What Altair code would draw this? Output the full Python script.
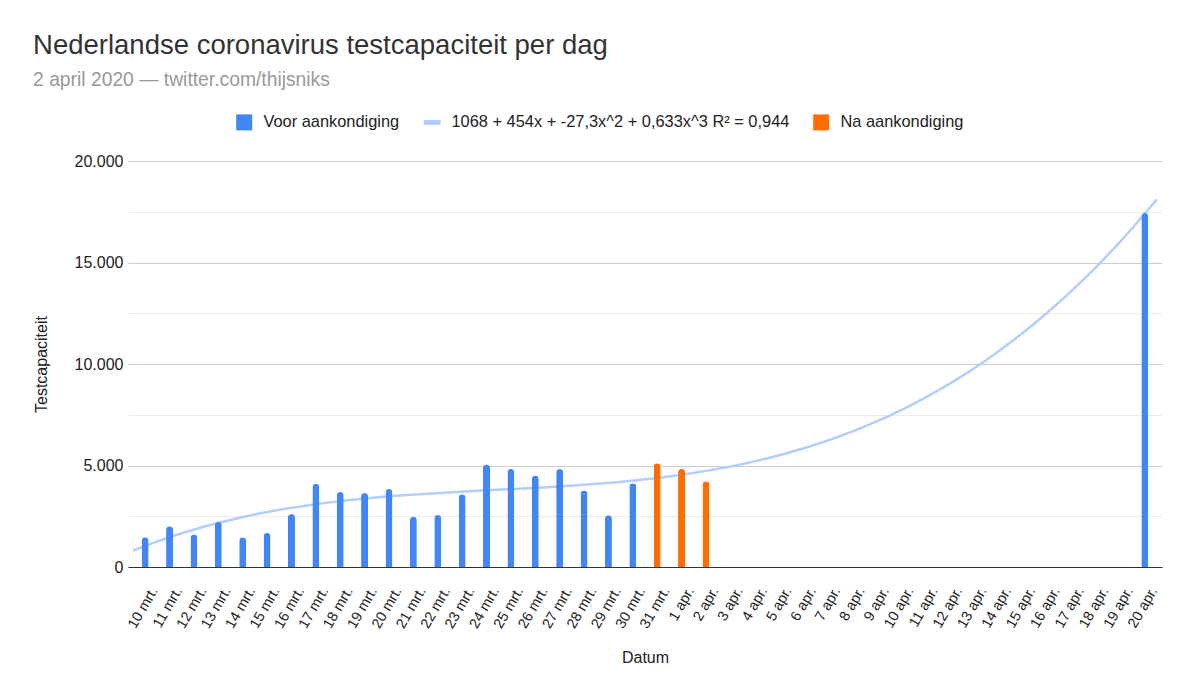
import altair as alt
import pandas as pd

# ---- data ----
date_labels = (
    [f"{d} mrt." for d in range(10, 32)] + [f"{d} apr." for d in range(1, 21)]
)
voor_index = list(range(0, 21)) + [41]
voor_values = [1470, 2010, 1600, 2220, 1470, 1680, 2610, 4100, 3690, 3640, 3840,
               2480, 2560, 3580, 5050, 4830, 4510, 4830, 3770, 2550, 4120, 17440]
na_index = [21, 22, 23]
na_values = [5110, 4830, 4230]

s_voor = "Voor aankondiging"
s_trend = "1068 + 454x + -27,3x^2 + 0,633x^3 R² = 0,944"
s_na = "Na aankondiging"
series_names = [s_voor, s_trend, s_na]
series_colors = ["#4285f4", "#b3cefb", "#ff6d01"]

df = pd.DataFrame({
    "x": voor_index + na_index,
    "y": voor_values + na_values,
    "series": [s_voor] * len(voor_index) + [s_na] * len(na_index),
})
legend_df = pd.DataFrame({"series": series_names})

FONT = "Liberation Sans"
label_arr = "[" + ",".join(f"'{l}'" for l in date_labels) + "]"

SQUARE = "M-1,-1H1V1H-1Z"
FLAT = "M-1.06,-0.31H1.06V0.31H-1.06Z"

color_scale = alt.Scale(domain=series_names, range=series_colors)
shape_scale = alt.Scale(domain=series_names, range=[SQUARE, FLAT, SQUARE])

legend = alt.Legend(
    orient="none", legendX=108, legendY=-47, direction="horizontal", title=None,
    labelFontSize=16.4, labelColor="#222222", labelFont=FONT, columnPadding=23,
    labelOffset=11, symbolSize=256, symbolStrokeWidth=0, symbolOpacity=1,
    labelLimit=500,
)

x_enc = alt.X(
    "x:Q",
    scale=alt.Scale(domain=[-0.5, 41.5], nice=False, zero=False),
    axis=alt.Axis(
        title="Datum", values=list(range(42)), labelExpr=f"{label_arr}[datum.value]",
        labelAngle=-60, grid=False, ticks=False, domainColor="#333333",
        labelFontSize=14.5, labelColor="#222222", labelPadding=21, labelOffset=9,
        titleFontSize=16, titleFontWeight="normal", titleColor="#222222",
        titlePadding=19, labelFlush=False, labelOverlap=False,
    ),
)
y_enc = alt.Y(
    "y:Q",
    scale=alt.Scale(domain=[0, 20000], nice=False),
    axis=alt.Axis(
        title="Testcapaciteit", values=list(range(0, 20001, 2500)),
        labelExpr="datum.value % 5000 === 0 ? replace(format(datum.value, ','), ',', '.') : ''",
        gridColor={"condition": {"test": "datum.value % 5000 === 0", "value": "#cccccc"},
                   "value": "#ebebeb"},
        domain=False, ticks=False, labelFontSize=16, labelColor="#222222",
        labelPadding=5, titleFontSize=16, titleFontWeight="normal",
        titleColor="#222222", titlePadding=25,
    ),
)

key = alt.Chart(legend_df).mark_point(filled=True, opacity=0, size=0).encode(
    color=alt.Color("series:N", scale=color_scale, legend=legend),
    shape=alt.Shape("series:N", scale=shape_scale, legend=legend),
)

trend = alt.Chart(df).transform_filter(
    alt.datum.series == s_voor
).transform_regression(
    "x", "y", method="poly", order=3, extent=[-0.5, 41.5]
).transform_calculate(
    series=f"'{s_trend}'"
).mark_line(strokeWidth=2.5, interpolate="monotone").encode(
    x=x_enc, y=y_enc,
    color=alt.Color("series:N", scale=color_scale, legend=legend),
)

bars = alt.Chart(df).mark_bar(
    width=7, cornerRadiusTopLeft=3.5, cornerRadiusTopRight=3.5
).encode(
    x=x_enc, y=y_enc,
    color=alt.Color("series:N", scale=color_scale, legend=legend),
)

chart = alt.layer(key, trend, bars).properties(
    width=1034, height=406,
    padding={"left": 25, "top": 24, "right": 20, "bottom": 10},
    title=alt.TitleParams(
        "Nederlandse coronavirus testcapaciteit per dag",
        subtitle="2 april 2020 — twitter.com/thijsniks",
        anchor="start", frame="bounds", font=FONT, fontSize=27.5,
        fontWeight="normal", color="#333333", subtitleFont=FONT,
        subtitleFontSize=19.3, subtitleColor="#999999", subtitlePadding=11,
        offset=24,
    ),
).configure_view(stroke=None).configure_axis(
    labelFont=FONT, titleFont=FONT
)

chart.save("out.html", embed_options={"renderer": "svg", "actions": False})
